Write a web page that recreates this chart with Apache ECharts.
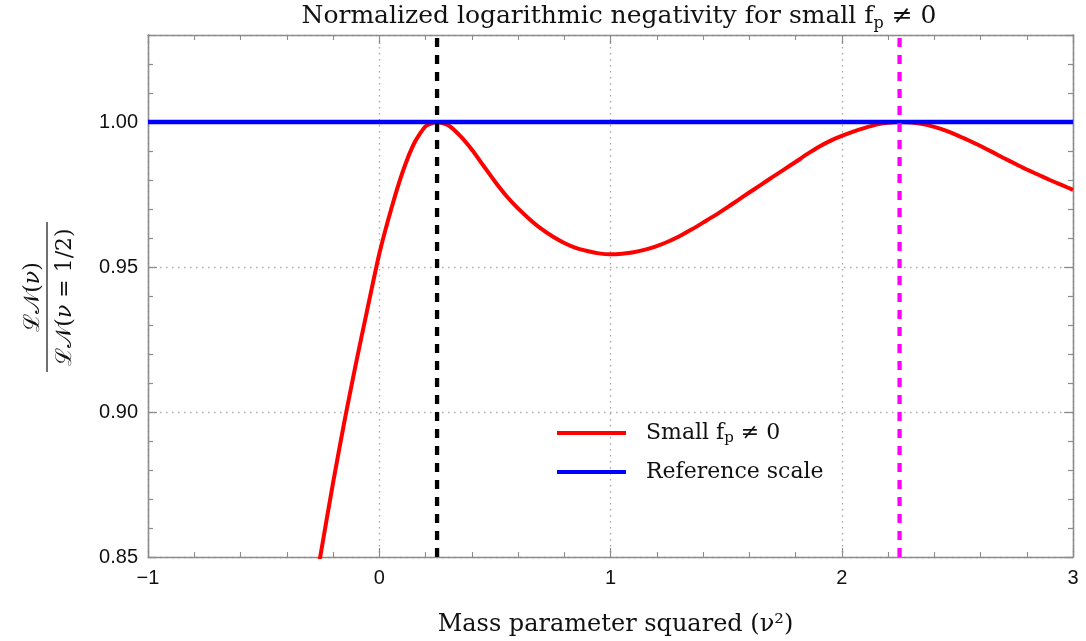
<!DOCTYPE html>
<html>
<head>
<meta charset="utf-8">
<script src="https://cdn.jsdelivr.net/npm/echarts@6/dist/echarts.min.js"></script>
<style>html,body{margin:0;padding:0;background:#fff;}#c{width:1086px;height:641px;}</style>
</head>
<body>
<div id="c"></div>
<script>
// Data
const nuSq = [-0.30,-0.25,-0.20,-0.15,-0.10,-0.05,0.00,0.05,0.10,0.15,0.20,0.25,0.30,0.35,0.40,0.45,0.50,0.55,0.60,0.65,0.70,0.75,0.80,0.85,0.90,0.95,1.00,1.05,1.10,1.15,1.20,1.25,1.30,1.35,1.40,1.45,1.50,1.55,1.60,1.65,1.70,1.75,1.80,1.85,1.90,1.95,2.00,2.05,2.10,2.15,2.20,2.25,2.30,2.35,2.40,2.45,2.50,2.55,2.60,2.65,2.70,2.75,2.80,2.85,2.90,2.95,3.00];
const smallFp = [0.829,0.8525,0.8755,0.8970,0.9170,0.9360,0.9545,0.9695,0.9825,0.9925,0.9985,1.0000,0.9988,0.9952,0.9905,0.9850,0.9795,0.9745,0.9702,0.9665,0.9632,0.9605,0.9583,0.9566,0.9555,0.9547,0.9544,0.9546,0.9551,0.9560,0.9572,0.9588,0.9607,0.9629,0.9653,0.9677,0.9703,0.9730,0.9757,0.9783,0.9810,0.9836,0.9862,0.9889,0.9914,0.9935,0.9952,0.9967,0.9980,0.9991,0.9997,1.0000,0.9998,0.9993,0.9983,0.9970,0.9954,0.9936,0.9917,0.9897,0.9876,0.9856,0.9836,0.9818,0.9800,0.9783,0.9766];
const refX = [-1, 3];
const refY = [1.0, 1.0];
const blackX = [0.25, 0.25];
const magentaX = [2.25, 2.25];
const vLineY = [0.85, 1.03];
const yTicks = [0.85, 0.90, 0.95, 1.00];

const pairs = (a, b) => a.map((v, i) => [v, b[i]]);
const serif = '"DejaVu Serif", "Liberation Serif", serif';
const sans = '"Liberation Sans", Arial, sans-serif';
const frame = '#8c8c8c';
const gridStyle = {color: '#aaaaaa', width: 1.4, type: [1.5, 4.5]};

const chart = echarts.init(document.getElementById('c'), null, {renderer: 'canvas'});

function xAx(pos, labels) {
  return {
    type: 'value', position: pos, min: -1, max: 3, interval: 1,
    axisLine: {show: true, onZero: false, lineStyle: {color: frame, width: 1.3}},
    axisTick: {show: true, inside: true, length: 9, lineStyle: {color: frame, width: 1.2}},
    minorTick: {show: true, splitNumber: 5, length: 5, lineStyle: {color: frame, width: 1.1}},
    splitLine: {show: labels, lineStyle: gridStyle},
    axisLabel: labels ? {show: true, margin: 11, fontSize: 20, fontFamily: sans, color: '#111',
      formatter: v => (v < 0 ? '\u2212' + Math.abs(v) : String(v))} : {show: false},
    name: labels ? 'Mass parameter squared (\u03BD\u00B2)' : '',
    nameLocation: 'middle', nameGap: 56,
    nameTextStyle: {fontFamily: serif, fontSize: 24, color: '#111', padding: [0, 0, 0, 10]}
  };
}
function yAx(pos, major, labels) {
  return {
    type: 'value', position: pos, min: 0.85, max: 1.03, interval: major ? 0.05 : 0.01,
    axisLine: {show: true, onZero: false, lineStyle: {color: frame, width: 1.3}},
    axisTick: {show: true, inside: true, length: major ? 9 : 5, lineStyle: {color: frame, width: 1.2}},
    splitLine: {show: labels, lineStyle: gridStyle},
    axisLabel: labels ? {show: true, margin: 10, fontSize: 20, fontFamily: sans, color: '#111', showMaxLabel: false,
      formatter: v => (yTicks.some(t => Math.abs(t - v) < 1e-6) ? v.toFixed(2) : '')} : {show: false}
  };
}

const option = {
  animation: false,
  backgroundColor: '#ffffff',
  grid: {left: 148, right: 13, top: 35, bottom: 84, containLabel: false, outerBoundsMode: 'none'},
  xAxis: [xAx('bottom', true), xAx('top', false)],
  yAxis: [yAx('left', true, true), yAx('left', false, false), yAx('right', true, false), yAx('right', false, false)],
  legend: {
    data: ['Small fp \u2260 0', 'Reference scale'],
    orient: 'vertical', left: 557, top: 420, padding: 0, itemWidth: 69, itemHeight: 4, itemGap: 13,
    icon: 'rect',
    formatter: n => n === 'Small fp \u2260 0' ? '{a|Small f}{s|p}{a| \u2260 0}' : '{a|Reference scale}',
    textStyle: {fontFamily: serif, fontSize: 22, lineHeight: 26, color: '#111', padding: [0, 0, 0, 15],
      rich: {a: {fontFamily: serif, fontSize: 22, color: '#111', lineHeight: 26},
             s: {fontFamily: serif, fontSize: 15, color: '#111', verticalAlign: 'bottom'}}}
  },
  graphic: [
    {type: 'text', x: 619, y: 0, z: 10,
      style: {text: '{a|Normalized logarithmic negativity for small f}{s|p}{a| \u2260 0}', align: 'center',
        rich: {a: {fontFamily: serif, fontSize: 25, fill: '#111', lineHeight: 32},
               s: {fontFamily: serif, fontSize: 16, fill: '#111', verticalAlign: 'bottom'}}}},
    {type: 'group', x: 47, y: 297, rotation: Math.PI / 2, children: [
      {type: 'text', style: {x: 0, y: -14, text: '{a|\u2112\u{1D4A9}(}{i|\u03BD}{a|)}', align: 'center', verticalAlign: 'middle',
        rich: {a: {fontFamily: serif, fontSize: 22, fill: '#111'}, i: {fontFamily: serif, fontStyle: 'italic', fontSize: 22, fill: '#111'}}}},
      {type: 'line', shape: {x1: -75, y1: 0, x2: 75, y2: 0}, style: {stroke: '#111', lineWidth: 1.2}},
      {type: 'text', style: {x: 0, y: 18, text: '{a|\u2112\u{1D4A9}(}{i|\u03BD}{a| = 1/2)}', align: 'center', verticalAlign: 'middle',
        rich: {a: {fontFamily: serif, fontSize: 22, fill: '#111'}, i: {fontFamily: serif, fontStyle: 'italic', fontSize: 22, fill: '#111'}}}}
    ]}
  ],
  series: [
    {name: 'Small fp \u2260 0', type: 'line', data: pairs(nuSq, smallFp), showSymbol: false, smooth: 0.2,
      lineStyle: {color: '#ff0000', width: 4}, itemStyle: {color: '#ff0000'}, z: 2, clip: true},
    {name: 'Reference scale', type: 'line', data: pairs(refX, refY), showSymbol: false,
      lineStyle: {color: '#0000ff', width: 4.5}, itemStyle: {color: '#0000ff'}, z: 3},
    {name: 'nu1', type: 'line', data: pairs(blackX, vLineY), showSymbol: false,
      lineStyle: {color: '#000000', width: 4.3, type: [9, 8]}, z: 4},
    {name: 'nu2', type: 'line', data: pairs(magentaX, vLineY), showSymbol: false,
      lineStyle: {color: '#ff00ff', width: 4.3, type: [9, 8]}, z: 4}
  ]
};
chart.setOption(option);
</script>
</body>
</html>
